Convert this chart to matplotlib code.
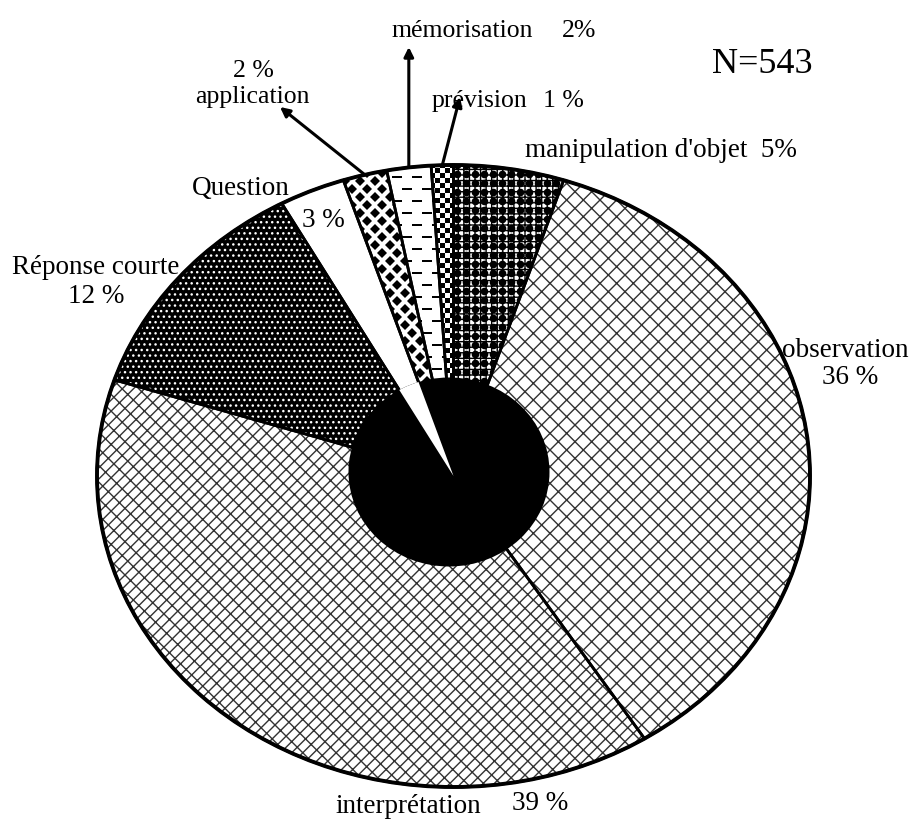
import numpy as np
import matplotlib
matplotlib.use('Agg')
import matplotlib.pyplot as plt
from matplotlib.patches import Wedge, Ellipse

# ---------------- data ----------------
categories = ["manipulation d'objet", "observation", "interprétation", "Réponse courte",
              "Question", "application", "mémorisation", "prévision"]
values = [5, 36, 39, 12, 3, 2, 2, 1]
pct_labels = ["5%", "36 %", "39 %", "12 %", "3 %", "2 %", "2%", "1 %"]
total_label = "N=543"

# ---------------- style ----------------
plt.rcParams['font.family'] = ['Liberation Serif', 'DejaVu Serif']
plt.rcParams['hatch.linewidth'] = 1.0

W, H = 913, 820
fig = plt.figure(figsize=(W / 100, H / 100), dpi=100)
fig.patch.set_facecolor('white')

# pie ellipse geometry in pixels
CX, CY, RX, RY = 453.5, 477.0, 356.5, 311.0
ax = fig.add_axes([(CX - RX) / W, (H - CY - RY) / H, 2 * RX / W, 2 * RY / H])
base_colors = ['white', 'white', 'white', 'black', 'white', 'white', 'white', 'white']
wedges, _ = ax.pie(values, startangle=90, counterclock=False, radius=1,
                   colors=base_colors, wedgeprops=dict(linewidth=0, edgecolor='none'))
for w in wedges:
    w.set_zorder(1)
ax.set_aspect('auto')
ax.set_xlim(-1, 1)
ax.set_ylim(-1, 1)
ax.axis('off')


def px2u(px, py):
    return (np.asarray(px) - CX) / RX, (CY - np.asarray(py)) / RY


# hatch overlays
hatch_spec = {0: ('+++', 'black'), 1: ('xx', '#333333'), 2: (r'///\\', '#333333'), 3: ('...', 'white')}
for i, (h, c) in hatch_spec.items():
    w = wedges[i]
    p = Wedge((0, 0), 1, w.theta1, w.theta2, facecolor='none', edgecolor=c,
              linewidth=0, hatch=h, zorder=2)
    ax.add_patch(p)


def texture(idx, sx, sy, stagger, marker, ms, mew=0.0, color='black'):
    pts_x, pts_y = [], []
    ys = np.arange(CY - RY - sy, CY + RY + sy, sy)
    for j, yy in enumerate(ys):
        off = sx / 2 if (stagger and j % 2) else 0.0
        xs = np.arange(CX - RX - sx, CX + RX + sx, sx) + off
        pts_x.extend(xs)
        pts_y.extend([yy] * len(xs))
    ux, uy = px2u(pts_x, pts_y)
    ln, = ax.plot(ux, uy, linestyle='none', marker=marker, markersize=ms,
                  markerfacecolor=color, markeredgecolor=color, markeredgewidth=mew, zorder=3)
    ln.set_clip_path(wedges[idx])


texture(0, 9, 9, False, 'o', 5.5)           # manipulation: balls on grid
texture(5, 15, 8, True, 'D', 5.0)           # application: diamonds
texture(6, 20, 12, True, '_', 7.0, mew=1.4)  # mémorisation: dashes
texture(7, 10, 5, True, 's', 3.6)           # prévision: checker

# outlines
for w in wedges:
    o = Wedge((0, 0), 1, w.theta1, w.theta2, facecolor='none', edgecolor='black',
              linewidth=2.0, zorder=4, clip_on=False)
    ax.add_patch(o)
rim = Ellipse((0, 0), 2, 2, facecolor='none', edgecolor='black', linewidth=2.8,
              zorder=4, clip_on=False)
ax.add_patch(rim)

# black centre disc
cu, cv = px2u(449, 473)
disc = Ellipse((cu, cv), 2 * 100.5 / RX, 2 * 94.5 / RY, facecolor='black', edgecolor='none', zorder=5)
ax.add_patch(disc)
# question slice shows through the disc
q = wedges[4]
qw = Wedge((0, 0), 1, q.theta1, q.theta2, facecolor='white', edgecolor='none', linewidth=0, zorder=6)
ax.add_patch(qw)
qw.set_clip_path(disc)

# ---------------- text overlay (pixel coordinates) ----------------
ax2 = fig.add_axes([0, 0, 1, 1])
ax2.set_xlim(0, W)
ax2.set_ylim(H, 0)
ax2.axis('off')
ax2.patch.set_alpha(0)

BIG = 19.5
SMALL = 18.5


def t(x, y, s, size=BIG, ha='left'):
    ax2.text(x, y, s, fontsize=size, ha=ha, va='baseline', color='black')


t(525, 157, f"{categories[0]}  {pct_labels[0]}")
t(845, 357, categories[1], ha='center')
t(850, 384, pct_labels[1], ha='center')
t(335, 813, categories[2])
t(512, 810, pct_labels[2])
t(96, 274, categories[3], ha='center')
t(96, 303, pct_labels[3], ha='center')
t(192, 195, categories[4])
t(302, 227, pct_labels[4])
t(253, 77, pct_labels[5], size=SMALL, ha='center')
t(252, 103, categories[5], size=SMALL, ha='center')
t(392, 37, categories[6], size=SMALL)
t(562, 37, pct_labels[6], size=SMALL)
t(432, 107, categories[7], size=SMALL)
t(543, 107, pct_labels[7], size=SMALL)
t(712, 73, total_label, size=26)

# arrows from small slices to their labels
arrow_ends = {5: (280, 108), 6: (408, 48), 7: (460, 98)}
for i, (ex, ey) in arrow_ends.items():
    w = wedges[i]
    th = np.deg2rad((w.theta1 + w.theta2) / 2)
    sx = CX + RX * np.cos(th)
    sy = CY - RY * np.sin(th)
    if i == 6:
        ex = sx
    ax2.annotate('', xy=(ex, ey), xytext=(sx, sy),
                 arrowprops=dict(arrowstyle='-|>', color='black', lw=2.2,
                                 mutation_scale=14, shrinkA=0, shrinkB=0))

fig.savefig('out.png', dpi=100, facecolor='white')
